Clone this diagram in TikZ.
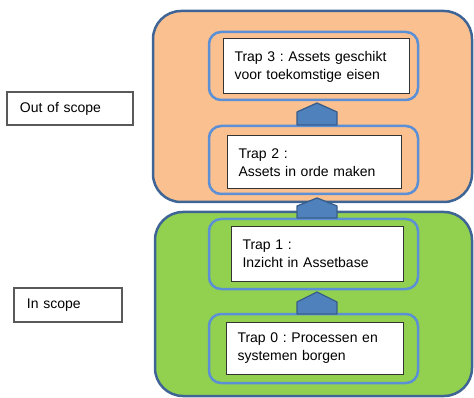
\documentclass[tikz,border=0pt]{standalone}
\usepackage{fontspec}
\setmainfont{Liberation Sans}
\frenchspacing
\definecolor{orangefill}{HTML}{FAC090}
\definecolor{greenfill}{HTML}{92D050}
\definecolor{darkborder}{HTML}{3E6595}
\definecolor{innerblue}{HTML}{5B8FD6}
\definecolor{arrowfill}{HTML}{4F81BD}
\definecolor{arrowline}{HTML}{385D8A}
\newcommand{\liftup}{\par\vspace{6pt}}
\begin{document}
\begin{tikzpicture}[x=1pt,y=-1pt,
  every node/.style={font=\fontsize{14}{18}\selectfont},
  scopebox/.style={draw=darkborder, line width=2.5pt, rounded corners=28pt, inner sep=0pt},
  stagebox/.style={draw=innerblue, line width=2.5pt, rounded corners=12pt, inner sep=0pt},
  textbox/.style={draw=black!80, line width=1pt, fill=white, inner xsep=11.5pt, inner ysep=0pt, align=left},
  labelbox/.style={draw=black!65, line width=1.2pt, fill=white, inner sep=0pt, align=left},
  uparrow/.style={fill=arrowfill, draw=arrowline, line width=1.3pt, line join=round}
]
\useasboundingbox (0,0) rectangle (474,398);

% scope areas
\node[scopebox, fill=orangefill, minimum width=319pt, minimum height=191pt] (out) at (312.5,106.5) {};
\node[scopebox, fill=greenfill, minimum width=317pt, minimum height=184pt] (in) at (313.5,304) {};

% stage frames
\node[stagebox, minimum width=209pt, minimum height=68pt] (f3) at (313.5,66) {};
\node[stagebox, minimum width=209pt, minimum height=68pt] (f2) at (313.5,160) {};
\node[stagebox, minimum width=209pt, minimum height=70pt] (f1) at (313.5,254) {};
\node[stagebox, minimum width=209pt, minimum height=69pt] (f0) at (313.5,348.5) {};

% text boxes
\node[textbox, text width=163pt, minimum height=55pt] (t3) at (316,66.5) {Trap 3 : Assets geschikt\\voor toekomstige eisen\liftup};
\node[textbox, text width=151pt, minimum height=53pt] (t2) at (314,162.5) {Trap 2 :\\Assets in orde maken\liftup};
\node[textbox, text width=149pt, minimum height=54pt] (t1) at (317,254) {Trap 1 :\\Inzicht in Assetbase\liftup};
\node[textbox, text width=154pt, minimum height=52pt] (t0) at (314.5,348) {Trap 0 : Processen en\\systemen borgen\liftup};

% up arrows (pentagons)
\draw[uparrow] (297,125) -- (297,112) -- (317,103) -- (337,112) -- (337,125) -- cycle;
\draw[uparrow] (297,218) -- (297,206) -- (317,198) -- (337,206) -- (337,218) -- cycle;
\draw[uparrow] (297,314) -- (297,302) -- (317,292) -- (337,302) -- (337,314) -- cycle;

% scope labels
\node[labelbox, minimum width=126pt, minimum height=33pt, text width=126pt] (lout) at (70,108.5) {\hspace*{13pt}Out of scope};
\node[labelbox, minimum width=108pt, minimum height=34pt, text width=108pt] (lin) at (68,305) {\hspace*{13pt}In scope};
\end{tikzpicture}
\end{document}
